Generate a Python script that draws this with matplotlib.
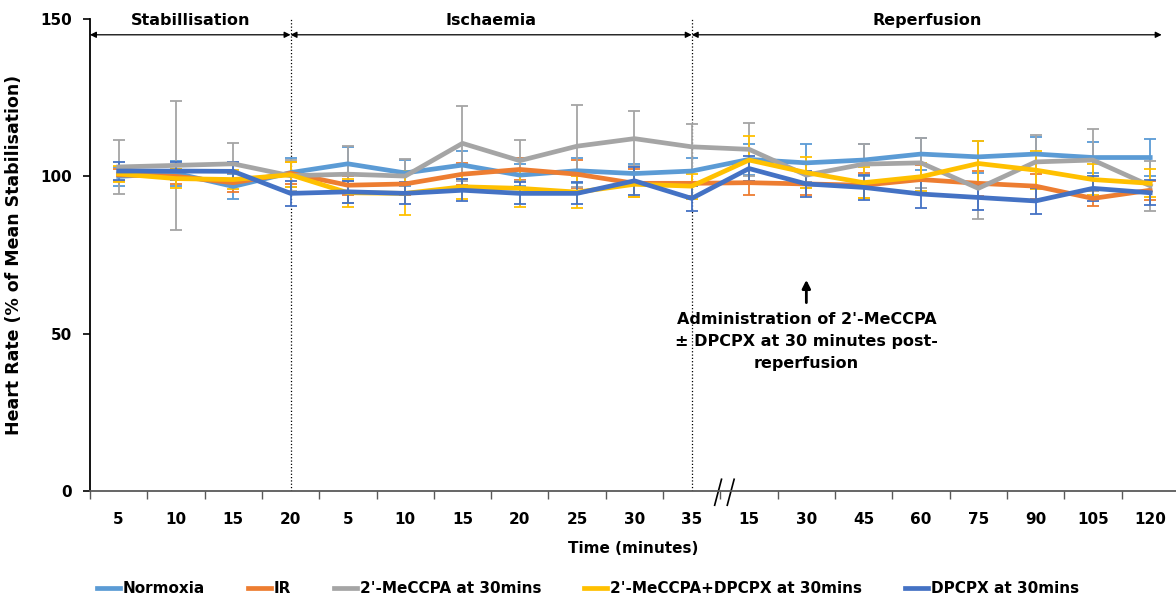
import numpy as np
import matplotlib as mpl
mpl.use("Agg")
import matplotlib.pyplot as plt
import matplotlib.transforms as mtransforms
from matplotlib.lines import Line2D

plt.rcParams['font.family'] = ['DejaVu Sans']
plt.rcParams['font.weight'] = 'bold'

time_labels = ['5', '10', '15', '20', '5', '10', '15', '20', '25', '30', '35',
               '15', '30', '45', '60', '75', '90', '105', '120']

normoxia = [100.0, 101.0, 96.8, 101.2, 104.0, 101.1, 103.6, 100.4, 101.8, 100.9, 101.7,
            105.4, 104.3, 105.2, 107.1, 106.2, 107.1, 106.0, 106.0]
ir = [100.5, 100.0, 98.0, 101.0, 97.2, 97.6, 100.7, 102.2, 100.7, 97.8, 97.8,
      98.0, 97.6, 97.2, 99.0, 97.8, 96.9, 93.0, 95.6]
mecpa = [103.0, 103.5, 104.0, 100.2, 100.7, 100.1, 110.5, 105.0, 109.6, 112.0, 109.4,
         108.6, 100.4, 103.9, 104.3, 96.2, 104.6, 105.2, 97.0]
mecpa_dpcpx = [100.8, 99.3, 99.0, 100.5, 94.8, 94.6, 96.7, 96.2, 95.0, 97.5, 96.9,
               105.2, 101.2, 98.0, 99.9, 104.1, 102.0, 99.0, 97.8]
dpcpx = [101.7, 101.7, 101.6, 94.6, 95.1, 94.6, 95.6, 94.6, 94.6, 98.6, 93.0,
         102.5, 97.6, 96.5, 94.4, 93.3, 92.2, 96.2, 94.8]

normoxia_err = [3.0, 4.0, 4.0, 4.5, 5.5, 4.0, 4.5, 3.5, 4.0, 3.0, 4.0,
                5.0, 6.0, 5.0, 5.0, 5.0, 5.5, 5.0, 6.0]
ir_err = [2.0, 2.5, 3.0, 3.5, 3.0, 3.5, 3.5, 3.5, 4.5, 4.5, 4.0,
          4.0, 3.5, 4.0, 4.5, 4.0, 4.0, 2.5, 3.0]
mecpa_err = [8.5, 20.5, 6.5, 5.0, 9.0, 5.4, 12.0, 6.5, 13.0, 8.7, 7.4,
             8.5, 4.0, 6.4, 8.0, 9.6, 8.5, 10.0, 8.0]
mecpa_dpcpx_err = [2.5, 3.0, 3.0, 4.0, 4.5, 7.0, 4.0, 6.0, 5.0, 4.0, 4.0,
                   7.5, 5.0, 5.0, 4.5, 7.0, 6.0, 5.0, 4.5]
dpcpx_err = [3.0, 3.0, 3.0, 4.0, 3.5, 3.5, 3.5, 3.5, 3.5, 4.5, 4.0,
             4.0, 4.0, 4.0, 4.5, 4.0, 4.0, 4.0, 4.0]

series = [
    ('Normoxia', normoxia, normoxia_err, '#5B9BD5'),
    ('IR', ir, ir_err, '#ED7D31'),
    ("2'-MeCCPA at 30mins", mecpa, mecpa_err, '#A5A5A5'),
    ("2'-MeCCPA+DPCPX at 30mins", mecpa_dpcpx, mecpa_dpcpx_err, '#FFC000'),
    ('DPCPX at 30mins', dpcpx, dpcpx_err, '#4472C4'),
]

fig = plt.figure(figsize=(11.76, 6.07), dpi=100)
ax = fig.add_axes([0.0765, 0.191, 0.9235, 0.7776])

x = np.arange(len(time_labels))
handles = []
for name, vals, err, col in series:
    ax.errorbar(x, vals, yerr=err, color=col, lw=3.4, elinewidth=1.3,
                capsize=4, capthick=1.3)
    handles.append(Line2D([], [], color=col, lw=3.4, label=name))

ax.set_xlim(-0.5, 18.45)
ax.set_ylim(0, 150)
ax.set_yticks([0, 50, 100, 150])
ax.tick_params(axis='y', labelsize=11, length=5, width=1.2, pad=8)
ax.set_xticks(x)
ax.set_xticklabels(time_labels)
ax.set_xticks(np.arange(-0.5, 18.5, 1), minor=True)
ax.tick_params(axis='x', which='major', length=0, labelsize=11, pad=15)
ax.tick_params(axis='x', which='minor', length=6, width=1, color='#595959')
for s in ['top', 'right']:
    ax.spines[s].set_visible(False)
ax.spines['left'].set_linewidth(1.3)
ax.spines['bottom'].set_linewidth(1.3)
ax.spines['bottom'].set_color('#595959')

ax.set_ylabel('Heart Rate (% of Mean Stabilisation)', fontsize=12.5, fontweight='bold', labelpad=12)
ax.set_xlabel('Time (minutes)', fontsize=11, fontweight='bold', labelpad=10)

# phase dividers
for xv in [3, 10]:
    ax.axvline(xv, color='black', lw=0.9, ls=':', zorder=0)

# phase arrows
for x0, x1, lab in [(-0.5, 3, 'Stabillisation'), (3, 10, 'Ischaemia'), (10, 18.2, 'Reperfusion')]:
    ax.annotate('', xy=(x0, 145), xytext=(x1, 145),
                arrowprops=dict(arrowstyle='<|-|>', color='black', lw=0.9,
                                mutation_scale=9, shrinkA=0, shrinkB=0))
    ax.text((x0 + x1) / 2, 147, lab, ha='center', va='bottom', fontsize=11.5, fontweight='bold')

# axis break mark
trans = mtransforms.blended_transform_factory(ax.transData, ax.transAxes)
for dx in [10.4, 10.62]:
    ax.plot([dx, dx + 0.12], [-0.03, 0.025], color='black', lw=1.2,
            transform=trans, clip_on=False)

# administration annotation
ax.annotate('', xy=(12, 68), xytext=(12, 59),
            arrowprops=dict(arrowstyle='-|>', color='black', lw=2, mutation_scale=12))
ax.text(12, 57, "Administration of 2'-MeCCPA\n\u00b1 DPCPX at 30 minutes post-\nreperfusion",
        ha='center', va='top', fontsize=11.5, fontweight='bold', linespacing=1.6)

fig.legend(handles=handles, loc='lower center', bbox_to_anchor=(0.5, -0.005), ncol=5,
           frameon=False, fontsize=11, handlelength=1.5, columnspacing=2.8, handletextpad=0.2)

fig.savefig('out.png', dpi=100)
